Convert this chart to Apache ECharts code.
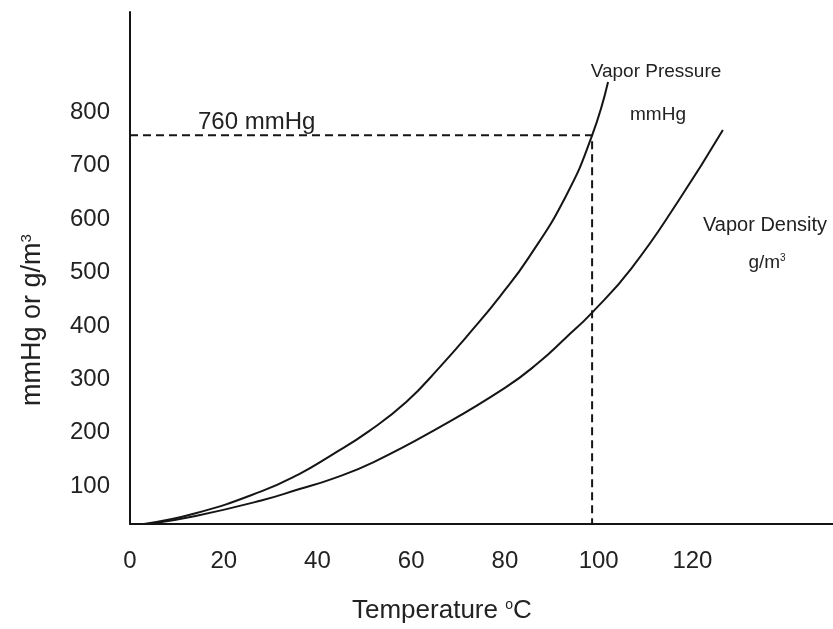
<!DOCTYPE html>
<html lang="en">
<head>
<meta charset="utf-8">
<title>Vapor pressure and vapor density of water</title>
<script src="https://cdn.jsdelivr.net/npm/echarts@6/dist/echarts.min.js"></script>
<style>
    html, body { margin: 0; padding: 0; background: #fff; }
    #chart { width: 833px; height: 629px; }
</style>
</head>
<body>
<div id="chart"></div>
<script>
// readings taken along each curve (temperature in degC, value in mmHg or g/m3)
var vpTemp  = [3, 14, 28, 36, 43, 51, 59, 66, 73, 79, 85, 93, 98.6, 102];
var vpValue = [29, 49, 90, 122, 158, 203, 258, 322, 392, 456, 527, 643, 757, 857];

var vdTemp  = [4, 14, 28, 36, 43, 52, 66, 80, 87, 93, 98.6, 107, 117, 126.5];
var vdValue = [29, 44, 73, 94, 113, 145, 210, 284, 330, 378, 425, 508, 634, 767];

// dashed 760 mmHg guide: y axis -> curve -> x axis
var guideTemp  = [0, 98.6, 98.6];
var guideValue = [757, 757, 29];

var xTicks = [0, 20, 40, 60, 80, 100, 120];
var yTicks = [100, 200, 300, 400, 500, 600, 700, 800];

function pairs(xs, ys) {
    return xs.map(function (x, i) { return [x, ys[i]]; });
}

var ink = '#151515';
var textInk = '#222';
var font = "'Liberation Sans', Arial, sans-serif";

function label(text, x, y, size, align, extra) {
    var sup = Math.round(size * 0.55);
    var el = {
        type: 'text',
        x: x,
        y: y,
        silent: true,
        style: {
            text: text,
            fontSize: size,
            fontFamily: font,
            fill: textInk,
            align: align,
            verticalAlign: 'middle',
            rich: {
                s: { fontSize: sup, fontFamily: font, fill: textInk, verticalAlign: 'top', lineHeight: sup }
            }
        }
    };
    if (extra) {
        for (var k in extra) el[k] = extra[k];
    }
    return el;
}

var chart = echarts.init(document.getElementById('chart'));

chart.setOption({
    animation: false,
    backgroundColor: '#fff',
    grid: {
        left: 130, right: 0, top: 12, bottom: 105,
        containLabel: false,
        outerBoundsMode: 'none'
    },
    xAxis: {
        type: 'value',
        min: 0,
        max: 150,
        axisLine: { show: true, onZero: false, lineStyle: { color: ink, width: 2 } },
        axisTick: { show: false },
        splitLine: { show: false },
        axisLabel: {
            customValues: xTicks,
            margin: 25,
            fontSize: 24,
            fontFamily: font,
            color: textInk
        }
    },
    yAxis: {
        type: 'value',
        min: 29,
        max: 988,
        axisLine: { show: true, onZero: false, lineStyle: { color: ink, width: 2 } },
        axisTick: { show: false },
        splitLine: { show: false },
        axisLabel: {
            customValues: yTicks,
            margin: 20,
            fontSize: 24,
            fontFamily: font,
            color: textInk
        }
    },
    series: [
        {
            name: 'Vapor Pressure',
            type: 'line',
            data: pairs(vpTemp, vpValue),
            smooth: 0.5,
            showSymbol: false,
            silent: true,
            lineStyle: { color: ink, width: 2 }
        },
        {
            name: 'Vapor Density',
            type: 'line',
            data: pairs(vdTemp, vdValue),
            smooth: 0.5,
            showSymbol: false,
            silent: true,
            lineStyle: { color: ink, width: 2 }
        },
        {
            name: '760 mmHg',
            type: 'line',
            data: pairs(guideTemp, guideValue),
            showSymbol: false,
            silent: true,
            lineStyle: { color: ink, width: 2, type: [8, 5] }
        }
    ],
    graphic: [
        label('Temperature {s|o}C', 352, 611, 26, 'left'),
        label('mmHg or g/m{s|3}', 33, 320, 27, 'center', { rotation: Math.PI / 2 }),
        label('760 mmHg', 198, 122, 24, 'left'),
        label('Vapor Pressure', 656, 72, 19, 'center'),
        label('mmHg', 658, 115, 19, 'center'),
        label('Vapor Density', 765, 225, 20, 'center'),
        label('g/m{s|3}', 767, 263, 19, 'center')
    ]
});
</script>
</body>
</html>
